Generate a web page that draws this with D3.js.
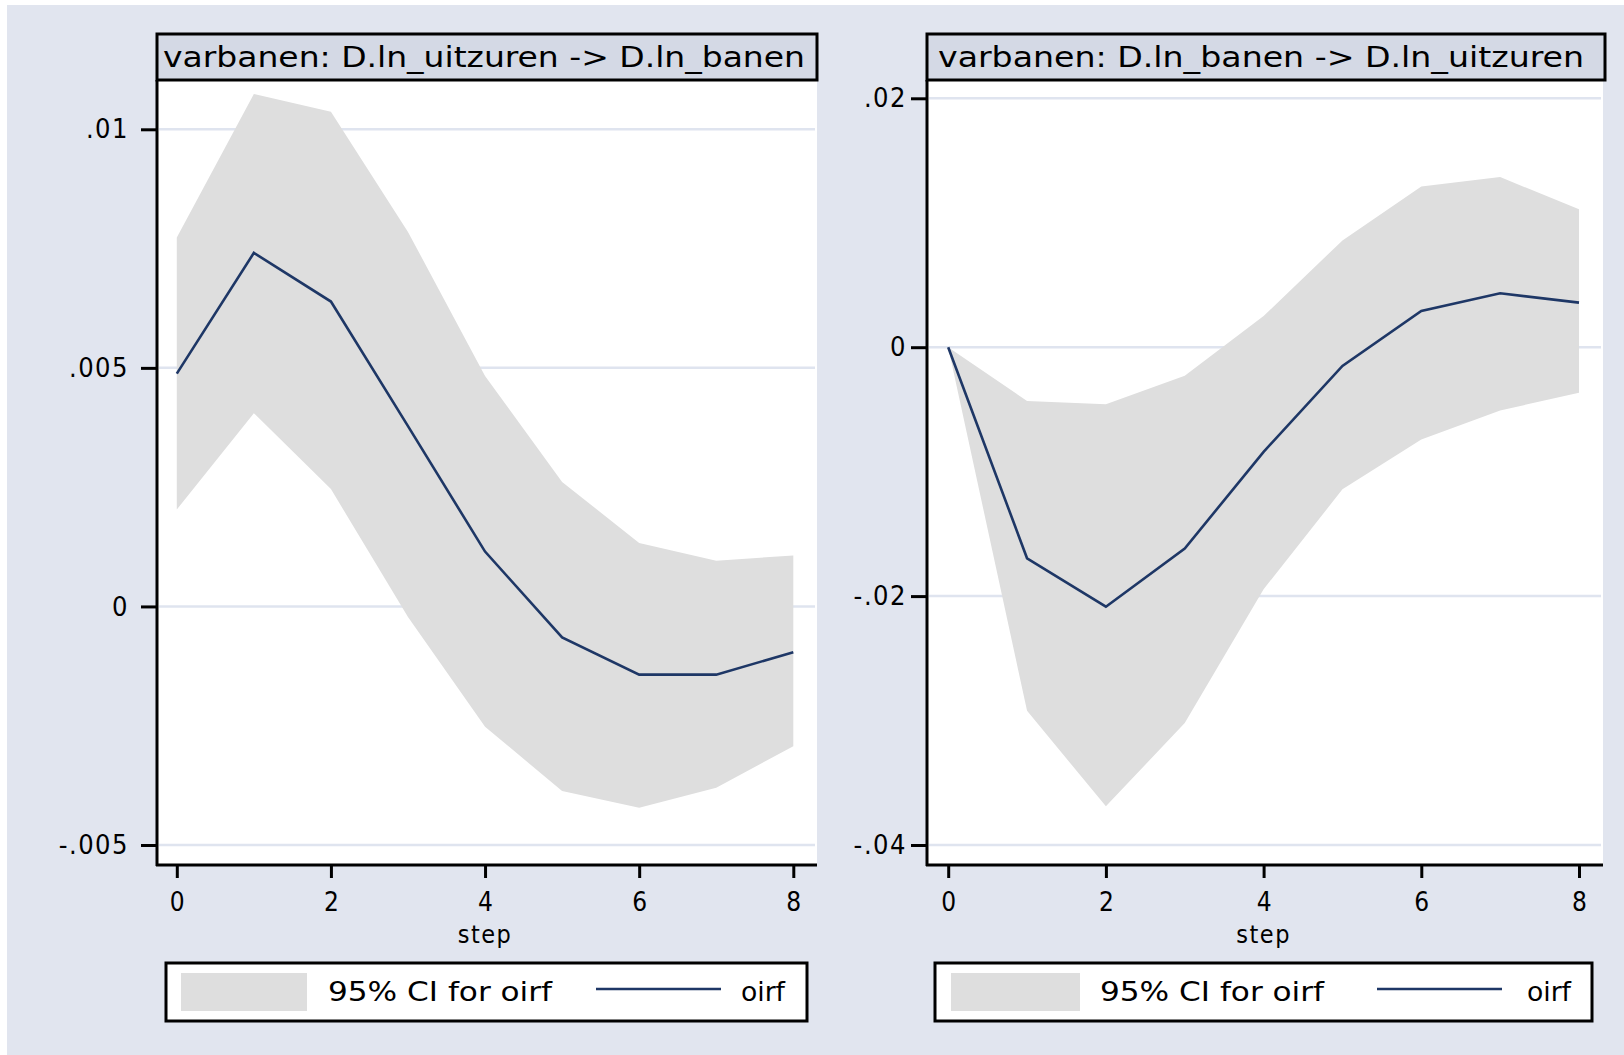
<!DOCTYPE html>
<html>
<head>
<meta charset="UTF-8">
<script src="https://d3js.org/d3.v7.min.js"></script>
<style>
  html, body { margin: 0; padding: 0; background: #fff; }
  svg { display: block; }
  text { font-family: "Liberation Sans Narrow", "Arial Narrow", "DejaVu Sans Condensed", "Liberation Sans", sans-serif; fill: #000; }
</style>
</head>
<body>
<svg id="chart"></svg>
<script>
// steps of the impulse response
const steps = [0, 1, 2, 3, 4, 5, 6, 7, 8];
const xTicks = [0, 2, 4, 6, 8];

// left panel: D.ln_uitzuren -> D.ln_banen
const titleLeft = "varbanen: D.ln_uitzuren -> D.ln_banen";
const oirfLeft  = [0.00488, 0.00741, 0.00639, 0.00378, 0.00115, -0.00065, -0.00143, -0.00143, -0.00096];
const upperLeft = [0.00773, 0.01074, 0.01037, 0.00785, 0.00483, 0.00261, 0.00133, 0.00096, 0.00107];
const lowerLeft = [0.00203, 0.00405, 0.00246, -0.00022, -0.00252, -0.00387, -0.00422, -0.00380, -0.00293];
const yTicksLeft = [-0.005, 0, 0.005, 0.01];

// right panel: D.ln_banen -> D.ln_uitzuren
const titleRight = "varbanen: D.ln_banen -> D.ln_uitzuren";
const oirfRight  = [0, -0.01696, -0.02085, -0.01618, -0.00841, -0.0015, 0.00292, 0.00433, 0.00358];
const upperRight = [0, -0.00432, -0.00459, -0.00229, 0.0025, 0.00858, 0.01292, 0.01367, 0.01108];
const lowerRight = [0, -0.02922, -0.03689, -0.03020, -0.01945, -0.01142, -0.00742, -0.00508, -0.00367];
const yTicksRight = [-0.04, -0.02, 0, 0.02];

const legendLabels = ["95% CI for oirf", "oirf"];

const W = 1624, H = 1055;
const bg = "#e1e5ef", titleFill = "#d4d9e5", ciFill = "#dedede",
      lineColor = "#1e3766", gridColor = "#dfe4ef";

const svg = d3.select("#chart").attr("width", W).attr("height", H);
svg.append("rect").attr("x", 7).attr("y", 5).attr("width", W - 7).attr("height", H - 5).attr("fill", bg);

// Stata style: ".01", "-.005"
const stataFmt = v => v === 0 ? "0" : String(+v.toFixed(4)).replace("0.", ".");

function drawPanel(p) {
    const g = svg.append("g");
    const x = d3.scaleLinear().domain([0, 8]).range(p.xRange);
    const y = d3.scaleLinear().domain(p.yDomain).range([845, p.yTop]);

    // plot region
    g.append("rect").attr("x", p.left).attr("y", 80)
        .attr("width", p.right - p.left).attr("height", 865 - 80).attr("fill", "#fff");

    // gridlines
    g.selectAll(".grid").data(p.yTicks).join("line")
        .attr("x1", p.left + 2).attr("x2", p.right - 2)
        .attr("y1", d => y(d)).attr("y2", d => y(d))
        .attr("stroke", gridColor).attr("stroke-width", 2.5);

    const data = steps.map((s, i) => ({ s, o: p.oirf[i], lo: p.lower[i], hi: p.upper[i] }));

    g.append("path").datum(data)
        .attr("d", d3.area().x(d => x(d.s)).y0(d => y(d.lo)).y1(d => y(d.hi)))
        .attr("fill", ciFill);

    g.append("path").datum(data)
        .attr("d", d3.line().x(d => x(d.s)).y(d => y(d.o)))
        .attr("fill", "none").attr("stroke", lineColor).attr("stroke-width", 2.6)
        .attr("stroke-linejoin", "miter");

    // y axis
    const yAxis = g.append("g").attr("transform", `translate(${p.left},0)`)
        .call(d3.axisLeft(y).tickValues(p.yTicks).tickFormat(stataFmt).tickSize(16).tickPadding(p.yPad));
    yAxis.select(".domain").attr("d", `M0,80V866`).attr("stroke-width", 3);
    yAxis.selectAll(".tick line").attr("stroke-width", 3);
    yAxis.selectAll(".tick text").attr("font-size", 27).attr("letter-spacing", 1.5)
        .attr("font-family", null);

    // x axis
    const xAxis = g.append("g").attr("transform", "translate(0,865)")
        .call(d3.axisBottom(x).tickValues(xTicks).tickFormat(d3.format("d")).tickSize(13).tickPadding(15));
    xAxis.select(".domain").attr("d", `M${p.left - 1},0H${p.right}`).attr("stroke-width", 3);
    xAxis.selectAll(".tick line").attr("stroke-width", 3);
    xAxis.selectAll(".tick text").attr("font-size", 26).attr("font-family", null);

    g.append("text").attr("x", (p.xRange[0] + p.xRange[1]) / 2).attr("y", 943)
        .attr("text-anchor", "middle").attr("font-size", 25).attr("letter-spacing", 1.5)
        .text("step");

    // title box
    g.append("rect").attr("x", p.left).attr("y", 34)
        .attr("width", p.titleRight - p.left).attr("height", 46)
        .attr("fill", titleFill).attr("stroke", "#000").attr("stroke-width", 3);
    g.append("text").attr("x", p.titleX).attr("y", 67)
        .attr("font-size", 29)
        .attr("textLength", p.titleW).attr("lengthAdjust", "spacingAndGlyphs")
        .text(p.title);

    // legend
    const lg = p.legend;
    g.append("rect").attr("x", lg.x).attr("y", 963).attr("width", lg.w).attr("height", 58)
        .attr("fill", "#fff").attr("stroke", "#000").attr("stroke-width", 3);
    g.append("rect").attr("x", lg.sw).attr("y", 973).attr("width", lg.swW).attr("height", 38)
        .attr("fill", ciFill);
    g.append("text").attr("x", lg.t1).attr("y", 1001).attr("font-size", 27)
        .attr("textLength", 224).attr("lengthAdjust", "spacingAndGlyphs")
        .text(legendLabels[0]);
    g.append("line").attr("x1", lg.l1).attr("x2", lg.l1 + 125).attr("y1", 989).attr("y2", 989)
        .attr("stroke", lineColor).attr("stroke-width", 2.6);
    g.append("text").attr("x", lg.t2).attr("y", 1001).attr("font-size", 27)
        .attr("textLength", 44).attr("lengthAdjust", "spacingAndGlyphs")
        .text(legendLabels[1]);
}

drawPanel({
    left: 157, right: 817, titleRight: 817,
    xRange: [176.8, 793.3], yDomain: [-0.005, 0.01], yTop: 129.3,
    yTicks: yTicksLeft, yPad: 12, oirf: oirfLeft, upper: upperLeft, lower: lowerLeft,
    title: titleLeft, titleX: 163, titleW: 642,
    legend: { x: 166, w: 641, sw: 181, swW: 126, t1: 328, l1: 596, t2: 741 }
});

drawPanel({
    left: 927, right: 1603, titleRight: 1605,
    xRange: [948.2, 1579], yDomain: [-0.04, 0.02], yTop: 98.3,
    yTicks: yTicksRight, yPad: 4, oirf: oirfRight, upper: upperRight, lower: lowerRight,
    title: titleRight, titleX: 938, titleW: 646,
    legend: { x: 935, w: 657, sw: 951, swW: 129, t1: 1100, l1: 1377, t2: 1527 }
});
</script>
</body>
</html>
